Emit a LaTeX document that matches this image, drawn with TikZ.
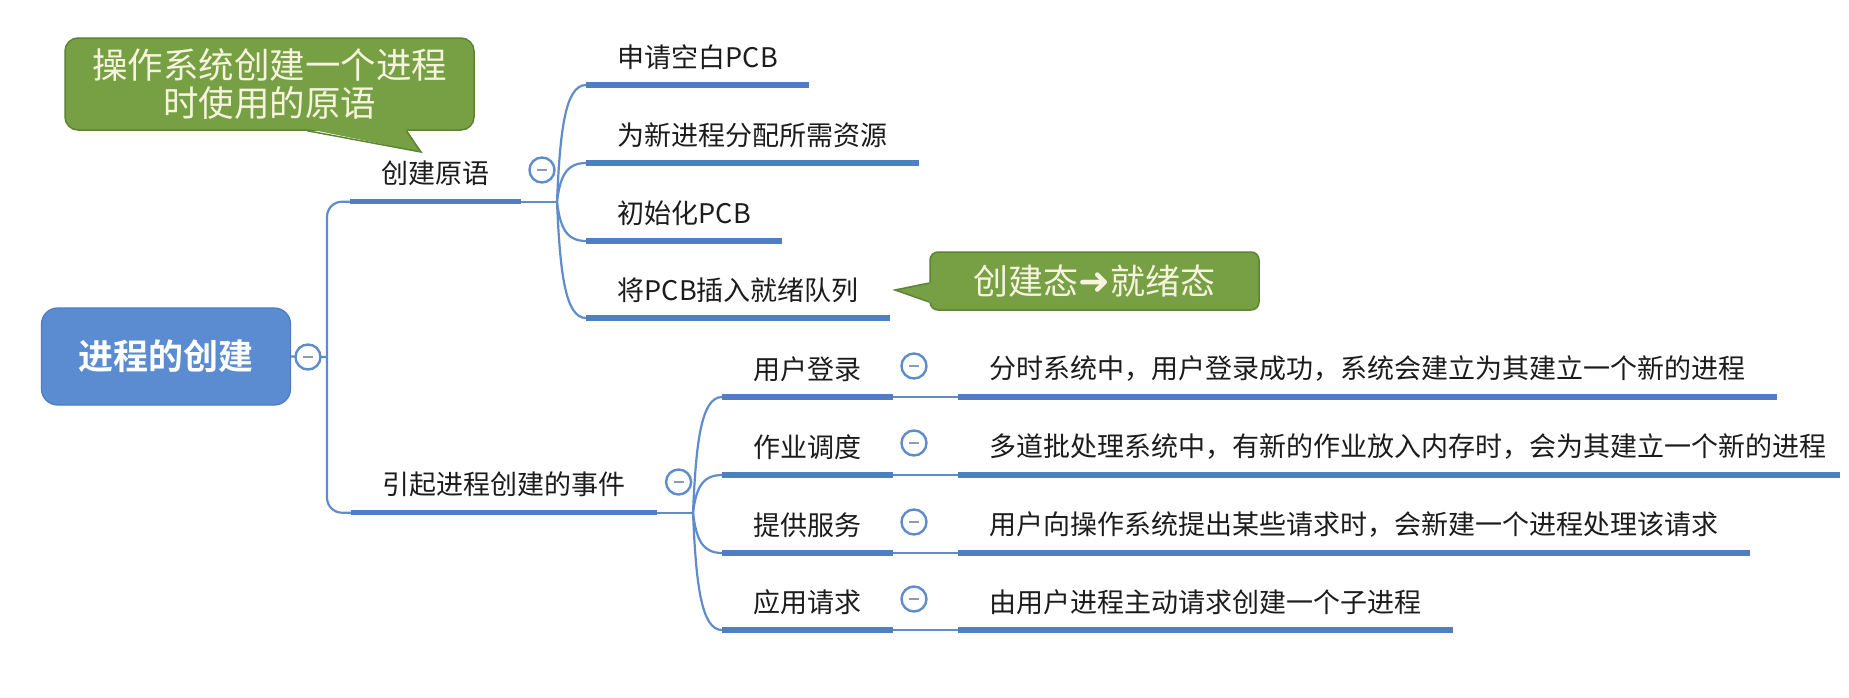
\documentclass[tikz,border=0pt]{standalone}
\usepackage{fontspec}
\setmainfont{Noto Sans CJK SC}[BoldFont={Noto Sans CJK SC Bold}]
\newfontfamily\symfont{DejaVu Sans}
\usetikzlibrary{calc}
\definecolor{rootblue}{HTML}{5B8CD1}
\definecolor{rootblueD}{HTML}{4D7CC0}
\definecolor{ublue}{HTML}{4F7FC3}
\definecolor{cblue}{HTML}{5F8DCB}
\definecolor{cgreen}{HTML}{76A043}
\definecolor{cgreenD}{HTML}{5C8434}
\definecolor{ctext}{HTML}{F6F3DF}
\definecolor{textc}{HTML}{1C1C1C}
\definecolor{mgray}{HTML}{8E9AAE}
\pgfdeclarelayer{back}
\pgfdeclarelayer{bg}
\pgfsetlayers{back,bg,main}
\begin{document}
\begin{tikzpicture}[x=1pt,y=-1pt,
  txt/.style={font=\fontsize{27}{32}\selectfont, text=textc},
  lbl/.style={txt, anchor=south west, minimum height=56, inner xsep=31.5, inner ysep=0},
  uline/.style={draw=ublue, line width=5.5},
  conn/.style={draw=cblue, line width=2.2},
  tog/.style={circle, draw=cblue, line width=2.4, fill=white, minimum size=25, inner sep=0,
    path picture={\draw[line width=2, mgray] ([xshift=-5pt]path picture bounding box.center) -- ([xshift=5pt]path picture bounding box.center);}},
  callout/.style={fill=cgreen, draw=cgreenD, line width=1.5, rounded corners=13, text=ctext, align=center, inner sep=0},
  rootbox/.style={rectangle, rounded corners=16, fill=rootblue, draw=rootblueD, line width=1.2,
    minimum width=249, minimum height=97, text=white, font=\fontsize{35}{40}\selectfont\bfseries}
]
\useasboundingbox (0,0) rectangle (1849,697);
\begin{pgfonlayer}{back}
\fill[white] (0,0) rectangle (1849,697);
\end{pgfonlayer}

% root
\node[rootbox] (root) at (166,356.5) {进程的创建};
\coordinate (tr) at (327,357);

% branch 1
\node[lbl] (b1) at (350,201.7) {创建原语};
\coordinate (f1) at (557,201.7);
\node[lbl] (c1) at (586,85) {申请空白PCB};
\node[lbl] (c2) at (586,163) {为新进程分配所需资源};
\node[lbl] (c3) at (586,241) {初始化PCB};
\node[lbl] (c4) at (586,318) {将PCB插入就绪队列};

% branch 2
\node[lbl] (b2) at (351,512.7) {引起进程创建的事件};
\coordinate (f2) at (693,512.7);
\node[lbl] (e1) at (722,397) {用户登录};
\node[lbl] (e2) at (722,475) {作业调度};
\node[lbl] (e3) at (722,553) {提供服务};
\node[lbl] (e4) at (722,630) {应用请求};
\node[lbl] (d1) at (957.5,397) {分时系统中，用户登录成功，系统会建立为其建立一个新的进程};
\node[lbl] (d2) at (957.5,475) {多道批处理系统中，有新的作业放入内存时，会为其建立一个新的进程};
\node[lbl] (d3) at (957.5,553) {用户向操作系统提出某些请求时，会新建一个进程处理该请求};
\node[lbl] (d4) at (957.5,630) {由用户进程主动请求创建一个子进程};

% connectors
\begin{pgfonlayer}{bg}
  \draw[conn] (root.east) -- (tr);
  \draw[conn, rounded corners=15] (b1.south west) -| (tr) |- (b2.south west);
  \draw[conn] (b1.south east) -- (f1);
  \draw[conn] (b2.south east) -- (f2);
  \foreach \c in {c1,c2,c3,c4} {
    \coordinate (p) at (f1 |- \c.south west);
    \draw[conn] (f1) .. controls ($(f1)!0.6!(p)+(3,0)$) and ($(p)+(8,0)$) .. (\c.south west);
  }
  \foreach \c in {e1,e2,e3,e4} {
    \coordinate (p) at (f2 |- \c.south west);
    \draw[conn] (f2) .. controls ($(f2)!0.6!(p)+(3,0)$) and ($(p)+(8,0)$) .. (\c.south west);
  }
  \foreach \i in {1,2,3,4} {
    \draw[conn] (e\i.south east) -- (d\i.south west);
  }
\end{pgfonlayer}

% underlines
\foreach \n in {b1,c1,c2,c3,c4,b2,e1,e2,e3,e4,d1,d3,d4} {
  \draw[uline] (\n.south west) -- (\n.south east);
}
\draw[uline, shorten >=18] (d2.south west) -- (d2.south east);

% toggles
\node[tog] (rc) at (308,357) {};
\node[tog] (t1) at (542,170) {};
\node[tog] (t2) at (678.6,482) {};
\node[tog] (te1) at (914,366) {};
\node[tog] (te2) at (914,443) {};
\node[tog] (te3) at (914,522) {};
\node[tog] (te4) at (914,599) {};

% callout 1
\node[callout, minimum width=409, minimum height=92, font=\fontsize{35.5}{38}\selectfont] (cap1) at (269.5,84) {操作系统创建一个进程\\时使用的原语};
\coordinate (tip1) at (421,152);
\fill[cgreen] ([xshift=243pt,yshift=2pt]cap1.south west) -- (tip1) -- ([xshift=342pt,yshift=2pt]cap1.south west) -- cycle;
\draw[cgreenD, line width=1.5, line join=miter] ([xshift=243pt]cap1.south west) -- (tip1) -- ([xshift=342pt]cap1.south west);

% callout 2
\node[callout, minimum width=329, minimum height=58, rounded corners=8, font=\fontsize{35}{40}\selectfont] (cap2) at (1094.5,281) {创建态{\symfont\fontsize{38}{40}\selectfont ➜}就绪态};
\coordinate (tip2) at (895,290);
\fill[cgreen] ([xshift=2pt,yshift=-2pt]cap2.west) -- (tip2) -- ([xshift=2pt,yshift=-21pt]cap2.west) -- cycle;
\draw[cgreenD, line width=1.5, line join=miter] ([yshift=-2pt]cap2.west) -- (tip2) -- ([yshift=-21pt]cap2.west);
\end{tikzpicture}
\end{document}
